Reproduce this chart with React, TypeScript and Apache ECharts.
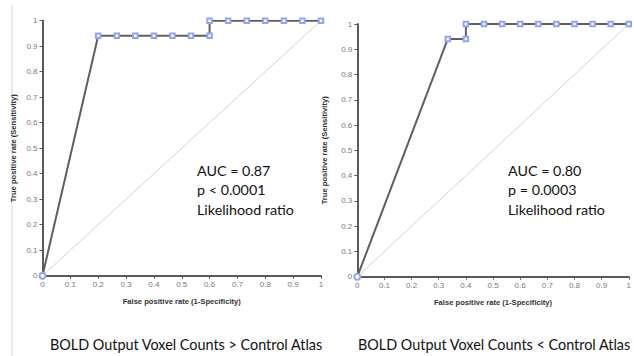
import React, { useEffect, useRef } from "react";
import * as echarts from "echarts";

// Left ROC: BOLD Output Voxel Counts > Control Atlas
const leftFpr = [0, 0.2, 0.2667, 0.3333, 0.4, 0.4667, 0.5333, 0.6, 0.6, 0.6667, 0.7333, 0.8, 0.8667, 0.9333, 1.0];
const leftTpr = [0, 0.941, 0.941, 0.941, 0.941, 0.941, 0.941, 0.941, 1, 1, 1, 1, 1, 1, 1];
// Right ROC: BOLD Output Voxel Counts < Control Atlas
const rightFpr = [0, 0.3333, 0.4, 0.4, 0.4667, 0.5333, 0.6, 0.6667, 0.7333, 0.8, 0.8667, 0.9333, 1.0];
const rightTpr = [0, 0.941, 0.941, 1, 1, 1, 1, 1, 1, 1, 1, 1, 1];
const diagonal = [0, 1];

const leftStats = ["AUC = 0.87", "p < 0.0001", "Likelihood ratio"];
const rightStats = ["AUC = 0.80", "p = 0.0003", "Likelihood ratio"];
const leftTitle = "BOLD Output Voxel Counts > Control Atlas";
const rightTitle = "BOLD Output Voxel Counts < Control Atlas";
const xName = "False positive rate (1-Specificity)";
const yName = "True positive rate (Sensitivity)";

const toPts = (xs: number[], ys: number[]) =>
  xs.map((x, i) => (i === 0 ? { value: [x, ys[i]], symbol: "emptyCircle", symbolSize: 6 } : { value: [x, ys[i]] }));

export default function App() {
  const ref = useRef<HTMLDivElement>(null);
  useEffect(() => {
    document.body.style.margin = "0";
    const chart = echarts.init(ref.current!, undefined, { renderer: "svg" });
    const axisCommon = {
      min: 0,
      max: 1,
      interval: 0.1,
      splitLine: { show: false },
      axisLine: { show: true, lineStyle: { color: "#5a5a5a", width: 2 } },
      axisTick: { show: true, length: 3, lineStyle: { color: "#5a5a5a", width: 1 } },
      axisLabel: { color: "#7a7a7a", fontSize: 8, fontFamily: "Liberation Sans, Arial", margin: 5 },
      nameTextStyle: { color: "#333333", fontSize: 7.6, fontWeight: "bold", fontFamily: "Liberation Sans, Arial" },
    };
    const xAxis = (gi: number) => ({
      ...axisCommon,
      type: "value",
      gridIndex: gi,
      name: xName,
      nameLocation: "middle",
      nameGap: 22,
    });
    const yAxis = (gi: number, gap: number) => ({
      ...axisCommon,
      type: "value",
      gridIndex: gi,
      name: yName,
      nameLocation: "middle",
      nameGap: gap,
      nameRotate: 90,
    });
    const roc = (gi: number, xs: number[], ys: number[]) => ({
      type: "line",
      xAxisIndex: gi,
      yAxisIndex: gi,
      data: toPts(xs, ys),
      symbol: "emptyRect",
      symbolSize: 4.5,
      showAllSymbol: true,
      lineStyle: { color: "#5f5f5f", width: 2 },
      itemStyle: { color: "#94a3f2", borderColor: "#94a3f2", borderWidth: 1 },
      z: 3,
    });
    const diag = (gi: number) => ({
      type: "line",
      xAxisIndex: gi,
      yAxisIndex: gi,
      data: diagonal.map((v) => [v, v]),
      symbol: "none",
      lineStyle: { color: "#d2d2d2", width: 1 },
      z: 2,
    });
    const statText = (left: number, lines: string[]) =>
      lines.map((t, i) => ({
        type: "text",
        left,
        top: 163 + i * 19.5,
        style: { text: t, fontSize: 14.3, fontFamily: "Lato, Open Sans, sans-serif", fill: "#111" },
      }));
    chart.setOption({
      animation: false,
      backgroundColor: "#fff",
      grid: [
        { left: 42.5, top: 20.7, width: 278.5, height: 255 },
        { left: 357.3, top: 24, width: 276, height: 252.7 },
      ],
      xAxis: [xAxis(0), xAxis(1)],
      yAxis: [yAxis(0, 25), yAxis(1, 29)],
      series: [diag(0), roc(0, leftFpr, leftTpr), diag(1), roc(1, rightFpr, rightTpr)],
      graphic: [
        { type: "line", shape: { x1: 12, y1: 5, x2: 12, y2: 356 }, style: { stroke: "#d8d8d8", lineWidth: 1 } },
        ...statText(197, leftStats),
        ...statText(508, rightStats),
        {
          type: "text",
          left: 50,
          top: 337,
          style: { text: leftTitle, fontSize: 14.4, fontFamily: "Lato, Open Sans, sans-serif", fill: "#111" },
        },
        {
          type: "text",
          left: 358,
          top: 337,
          style: { text: rightTitle, fontSize: 14.4, fontFamily: "Lato, Open Sans, sans-serif", fill: "#111" },
        },
      ],
    });
    return () => chart.dispose();
  }, []);
  return <div ref={ref} style={{ width: 634, height: 356 }} />;
}
